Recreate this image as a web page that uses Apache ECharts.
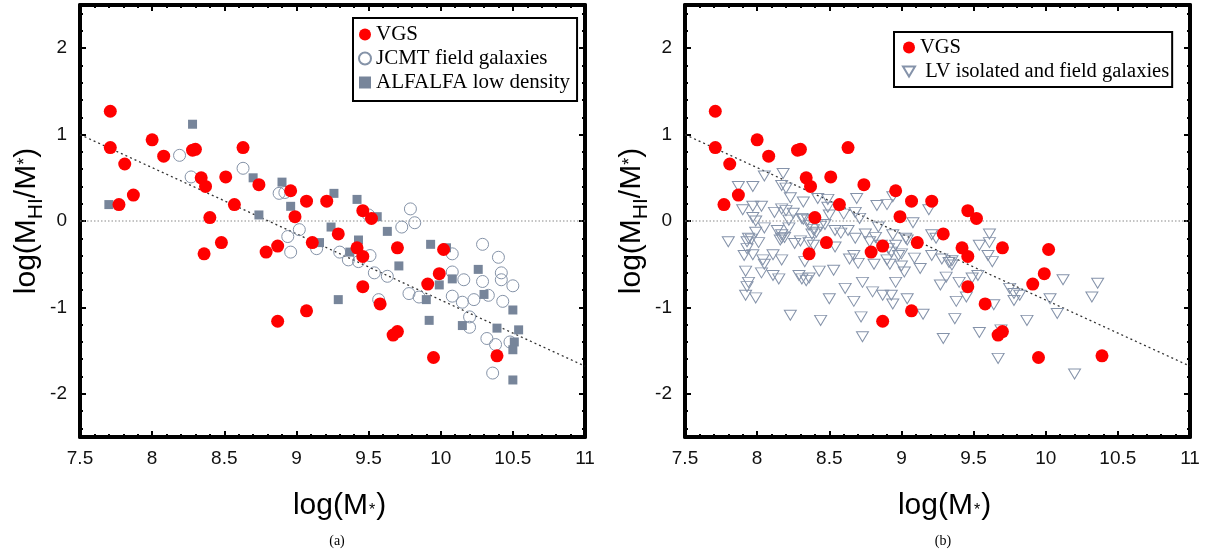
<!DOCTYPE html>
<html><head><meta charset="utf-8">
<script src="https://cdn.jsdelivr.net/npm/echarts@6/dist/echarts.min.js"></script>
<style>html,body{margin:0;padding:0;background:#fff}#c{width:1215px;height:556px}</style>
</head><body><div id="c"></div>
<script>
// ---------- data ----------
const xTicks = [7.5, 8, 8.5, 9, 9.5, 10, 10.5, 11];
const yMajorTicks = [-2, -1, 0, 1, 2];
const yMinorTicks = [-2.4, -2.2, -1.8, -1.6, -1.4, -1.2, -0.8, -0.6, -0.4, -0.2, 0.2, 0.4, 0.6, 0.8, 1.2, 1.4, 1.6, 1.8, 2.2, 2.4];

const vgs = [
  [7.71, 1.27], [7.71, 0.85], [7.81, 0.66], [7.77, 0.19], [7.87, 0.30], [8.00, 0.94], [8.08, 0.75],
  [8.28, 0.82], [8.30, 0.83], [8.34, 0.50], [8.37, 0.40], [8.40, 0.04], [8.51, 0.51], [8.57, 0.19],
  [8.63, 0.85], [8.74, 0.42], [8.96, 0.35], [8.99, 0.05], [9.07, 0.23], [9.21, 0.23], [9.46, 0.12],
  [9.52, 0.03], [9.29, -0.15], [8.36, -0.38], [8.48, -0.25], [8.79, -0.36], [8.87, -0.29], [9.11, -0.25],
  [8.87, -1.16], [9.07, -1.04], [9.42, -0.31], [9.46, -0.41], [9.70, -0.31], [10.02, -0.33], [9.99, -0.61],
  [9.91, -0.73], [9.46, -0.76], [9.58, -0.96], [9.67, -1.32], [9.70, -1.28], [9.95, -1.58], [10.39, -1.56]
];

const jcmt = [
  [8.19, 0.76], [8.27, 0.51], [8.63, 0.61], [8.88, 0.32], [8.92, 0.33], [9.02, -0.10], [8.94, -0.18],
  [8.96, -0.36], [9.14, -0.32], [9.79, 0.14], [9.73, -0.07], [9.82, -0.02], [9.50, 0.07], [9.30, -0.36],
  [9.36, -0.45], [9.43, -0.47], [9.51, -0.40], [9.54, -0.60], [9.63, -0.64], [9.57, -0.91], [9.78, -0.84],
  [9.85, -0.88], [10.08, -0.38], [10.08, -0.59], [10.08, -0.87], [10.15, -0.94], [10.16, -0.68], [10.29, -0.27],
  [10.29, -0.70], [10.23, -0.91], [10.33, -0.86], [10.40, -0.42], [10.42, -0.60], [10.42, -0.68], [10.50, -0.75],
  [10.43, -0.93], [10.20, -1.11], [10.20, -1.23], [10.32, -1.36], [10.38, -1.43], [10.48, -1.40], [10.36, -1.76]
];

const alfalfa = [
  [7.70, 0.19], [8.28, 1.12], [8.70, 0.50], [8.90, 0.45], [8.96, 0.17], [8.74, 0.07], [9.16, -0.25],
  [9.24, -0.07], [9.26, 0.32], [9.42, 0.25], [9.56, 0.05], [9.63, -0.12], [9.43, -0.22], [9.37, -0.36],
  [9.93, -0.27], [10.04, -0.31], [9.71, -0.52], [10.08, -0.67], [9.99, -0.74], [10.26, -0.56], [10.30, -0.85],
  [9.90, -0.91], [9.29, -0.91], [9.92, -1.15], [10.15, -1.21], [10.39, -1.24], [10.54, -1.26], [10.50, -1.03],
  [10.51, -1.40], [10.50, -1.49], [10.50, -1.84]
];

const lv = [
  [7.80, -0.24], [7.87, 0.40], [7.97, 0.40], [7.90, 0.13], [7.97, 0.17], [8.03, 0.17], [7.97, 0.04],
  [7.99, 0.00], [7.93, -0.24], [7.94, -0.20], [7.96, -0.21], [8.01, -0.25], [7.93, -0.32], [7.91, -0.40],
  [7.97, -0.39], [7.92, -0.58], [7.94, -0.71], [7.93, -0.76], [7.92, -0.86], [7.99, -0.89], [7.99, -0.13],
  [8.05, 0.52], [8.18, 0.55], [8.17, 0.41], [8.20, 0.38], [8.23, 0.27], [8.32, 0.22], [8.12, 0.10],
  [8.17, 0.14], [8.20, 0.12], [8.25, 0.09], [8.31, 0.03], [8.05, -0.08], [8.22, 0.01], [8.22, -0.08],
  [8.14, -0.11], [8.17, -0.16], [8.17, -0.20], [8.16, -0.22], [8.19, -0.19], [8.26, -0.26], [8.30, -0.23],
  [8.36, -0.25], [8.04, -0.45], [8.05, -0.50], [8.11, -0.39], [8.17, -0.45], [8.03, -0.60], [8.11, -0.63],
  [8.15, -0.67], [8.29, -0.63], [8.31, -0.67], [8.34, -0.69], [8.23, -1.09], [8.33, -0.47], [8.32, 0.02],
  [8.35, 0.01], [8.36, -0.05],
  [8.69, 0.26], [8.83, 0.18], [8.90, 0.19], [8.49, 0.16], [8.60, 0.08], [8.68, 0.10], [8.50, 0.07],
  [8.71, 0.03], [8.84, -0.07], [8.39, -0.10], [8.41, -0.13], [8.38, -0.15], [8.54, -0.11], [8.63, -0.11],
  [8.75, -0.15], [8.94, -0.16], [9.03, -0.20], [8.68, -0.20], [8.78, -0.24], [8.96, -0.28], [8.91, -0.32],
  [8.93, -0.36], [8.39, -0.28], [8.54, -0.30], [8.67, -0.40], [8.70, -0.49], [8.81, -0.50], [8.90, -0.45],
  [8.92, -0.50], [8.98, -0.40], [9.00, -0.52], [9.02, -0.59], [8.43, -0.58], [8.53, -0.57], [8.36, -0.66],
  [8.73, -0.71], [8.96, -0.71], [8.61, -0.78], [8.80, -0.82], [8.87, -0.86], [8.93, -0.86], [8.50, -0.90],
  [8.67, -0.93], [8.94, -0.96], [8.72, -1.11], [8.44, -1.15], [8.73, -1.34], [9.04, -0.90],
  [8.42, 0.26], [8.49, 0.25], [8.94, 0.28], [8.44, -0.06], [8.47, -0.04], [8.58, -0.14], [8.82, -0.19],
  [8.86, -0.28], [8.64, -0.44],
  [9.08, -0.02], [9.19, 0.13], [9.21, -0.16], [9.24, -0.20], [9.04, -0.22], [9.00, -0.38], [9.09, -0.43],
  [9.21, -0.40], [9.28, -0.44], [9.33, -0.48], [9.35, -0.46], [9.35, -0.51], [9.13, -0.55], [9.31, -0.65],
  [9.27, -0.74], [9.40, -0.71], [9.49, -0.66], [9.53, -0.63], [9.45, -0.88], [9.38, -0.93], [9.15, -1.08],
  [9.37, -1.13], [9.29, -1.36], [9.54, -1.29], [9.64, -0.97], [9.69, -1.26], [9.67, -1.59], [9.61, -0.15],
  [9.61, -0.25], [9.54, -0.28], [9.60, -0.40], [9.63, -0.47], [9.75, -0.78], [9.78, -0.84], [9.82, -0.86],
  [9.78, -0.92], [9.87, -1.15], [10.03, -0.90], [10.08, -1.07], [10.12, -0.68], [10.36, -0.72], [10.32, -0.88],
  [10.20, -1.77]
];

const zeroLine = [[7.5, 0], [11, 0]];
const fitLine = [[7.5, 1.0], [11, -1.68]];
const captions = ['(a)', '(b)'];

// ---------- styling ----------
const SANS = '"Liberation Sans", Arial, Helvetica, sans-serif';
const SERIF = '"Liberation Serif", "Times New Roman", serif';
const grids = [
  { left: 80, width: 505, top: 5, height: 432 },
  { left: 685, width: 505, top: 5, height: 432 }
];

const xNameStyle = {
  fontSize: 30, fontFamily: SANS, color: '#000', padding: [0, 0, 0, 14],
  rich: { s: { fontSize: 16, fontFamily: SANS, color: '#000', verticalAlign: 'bottom', padding: [0, 1, 2, 1] } }
};
const yNameStyle = {
  fontSize: 30, fontFamily: SANS, color: '#000',
  rich: {
    sub: { fontSize: 21, fontFamily: SANS, color: '#000', verticalAlign: 'bottom', padding: [0, 0, -4, 0] },
    sup: { fontSize: 18, fontFamily: SANS, color: '#000', verticalAlign: 'top', padding: [4, 0, 0, 0] }
  }
};

const axisLine = { show: true, onZero: false, lineStyle: { color: '#000', width: 4 } };
const tick = { inside: true, length: 6, lineStyle: { color: '#000', width: 2 } };
const minorTick = { show: true, splitNumber: 5, length: 3, lineStyle: { color: '#000', width: 2 } };

const xAxes = [], yAxes = [];
grids.forEach((g, gi) => {
  xAxes.push({
    gridIndex: gi, type: 'value', min: xTicks[0], max: xTicks[xTicks.length - 1], interval: 0.5,
    position: 'bottom', axisLine, axisTick: tick, minorTick, splitLine: { show: false },
    axisLabel: { fontSize: 19, fontFamily: SANS, color: '#111', margin: 12, showMinLabel: true, showMaxLabel: true },
    name: 'log(M{s|*})', nameLocation: 'middle', nameGap: 54, nameTextStyle: xNameStyle
  });
  xAxes.push({
    gridIndex: gi, type: 'value', min: xTicks[0], max: xTicks[xTicks.length - 1], interval: 0.5,
    position: 'top', axisLine, axisTick: tick, minorTick, splitLine: { show: false },
    axisLabel: { show: false }
  });
  yAxes.push({
    gridIndex: gi, type: 'value', min: -2.5, max: 2.5, position: 'left', offset: 0,
    axisLine, axisTick: Object.assign({}, tick, { customValues: yMajorTicks }),
    axisLabel: { customValues: yMajorTicks, fontSize: 19, fontFamily: SANS, color: '#111', margin: 13 },
    splitLine: { show: false },
    name: 'log(M{sub|HI}/M{sup|*})', nameLocation: 'middle', nameRotate: 90, nameGap: 30, nameTextStyle: yNameStyle
  });
  yAxes.push({
    gridIndex: gi, type: 'value', min: -2.5, max: 2.5, position: 'right', offset: 0,
    axisLine, axisTick: Object.assign({}, tick, { customValues: yMajorTicks }),
    axisLabel: { show: false }, splitLine: { show: false }
  });
  yAxes.push({
    gridIndex: gi, type: 'value', min: -2.5, max: 2.5, position: 'left', offset: 0,
    axisLine: { show: false }, axisTick: { inside: true, length: 3, customValues: yMinorTicks, lineStyle: { color: '#000', width: 2 } },
    axisLabel: { show: false }, splitLine: { show: false }
  });
  yAxes.push({
    gridIndex: gi, type: 'value', min: -2.5, max: 2.5, position: 'right', offset: 0,
    axisLine: { show: false }, axisTick: { inside: true, length: 3, customValues: yMinorTicks, lineStyle: { color: '#000', width: 2 } },
    axisLabel: { show: false }, splitLine: { show: false }
  });
});

function lineSeries(data, xi, yi, style, z) {
  return { type: 'line', data, xAxisIndex: xi, yAxisIndex: yi, showSymbol: false, symbol: 'none',
    silent: true, lineStyle: style, z, animation: false };
}

const DOWN_TRI = 'path://M0,0 L12,0 L6,10 Z';
const series = [];
[0, 1].forEach(gi => {
  const xi = gi * 2, yi = gi * 6;
  series.push(lineSeries(zeroLine, xi, yi, { color: '#8a8a8a', width: 1.2, type: [1.5, 2] }, 1));
  series.push(lineSeries(fitLine, xi, yi, { color: '#333', width: 1.3, type: [2, 3] }, 1));
});
series.push({ type: 'scatter', name: 'JCMT field galaxies', xAxisIndex: 0, yAxisIndex: 0, data: jcmt,
  symbol: 'circle', symbolSize: 12, itemStyle: { color: 'rgba(255,255,255,0)', borderColor: '#8593a8', borderWidth: 1, opacity: 1 }, z: 3 });
series.push({ type: 'scatter', name: 'ALFALFA low density', xAxisIndex: 0, yAxisIndex: 0, data: alfalfa,
  symbol: 'rect', symbolSize: 9, itemStyle: { color: '#77859a', opacity: 1 }, z: 3 });
series.push({ type: 'scatter', name: 'VGS', xAxisIndex: 0, yAxisIndex: 0, data: vgs,
  symbol: 'circle', symbolSize: 13, itemStyle: { color: '#ff0000', opacity: 1 }, z: 5 });
series.push({ type: 'scatter', name: 'LV isolated and field galaxies', xAxisIndex: 2, yAxisIndex: 6, data: lv,
  symbol: DOWN_TRI, symbolSize: [12, 10],
  itemStyle: { color: 'rgba(255,255,255,0)', borderColor: '#8593aa', borderWidth: 1, opacity: 1 }, z: 3 });
series.push({ type: 'scatter', name: 'VGS', xAxisIndex: 2, yAxisIndex: 6, data: vgs,
  symbol: 'circle', symbolSize: 13, itemStyle: { color: '#ff0000', opacity: 1 }, z: 5 });

const legendCommon = {
  orient: 'vertical', selectedMode: false, borderColor: '#000', borderWidth: 2, backgroundColor: '#fff',
  itemWidth: 12, itemHeight: 12, itemGap: 3,
  textStyle: { fontFamily: SERIF, fontSize: 21, color: '#000' }
};

const option = {
  animation: false,
  backgroundColor: '#fff',
  grid: grids,
  xAxis: xAxes,
  yAxis: yAxes,
  series,
  legend: [
    Object.assign({}, legendCommon, {
      data: ['VGS', 'JCMT field galaxies', { name: 'ALFALFA low density', itemStyle: { color: '#77859a' }, icon: 'path://M0,0 L10,0 L10,10 L0,10 Z' }],
      left: 353, top: 18, padding: [6, 7, 8, 5] }),
    Object.assign({}, legendCommon, {
      data: ['VGS', { name: 'LV isolated and field galaxies', icon: DOWN_TRI }],
      left: 894, top: 32, padding: [5, 3, 5, 8],
      textStyle: { fontFamily: SERIF, fontSize: 20.5, color: '#000' },
      formatter: n => n === 'VGS' ? n : ' ' + n })
  ],
  graphic: [
    { type: 'text', x: 337, y: 541, style: { text: captions[0], font: '14px ' + SERIF, fill: '#000', align: 'center', verticalAlign: 'middle' } },
    { type: 'text', x: 943, y: 541, style: { text: captions[1], font: '14px ' + SERIF, fill: '#000', align: 'center', verticalAlign: 'middle' } }
  ]
};

const chart = echarts.init(document.getElementById('c'), null, { renderer: 'canvas' });
chart.setOption(option);
</script>
</body></html>
